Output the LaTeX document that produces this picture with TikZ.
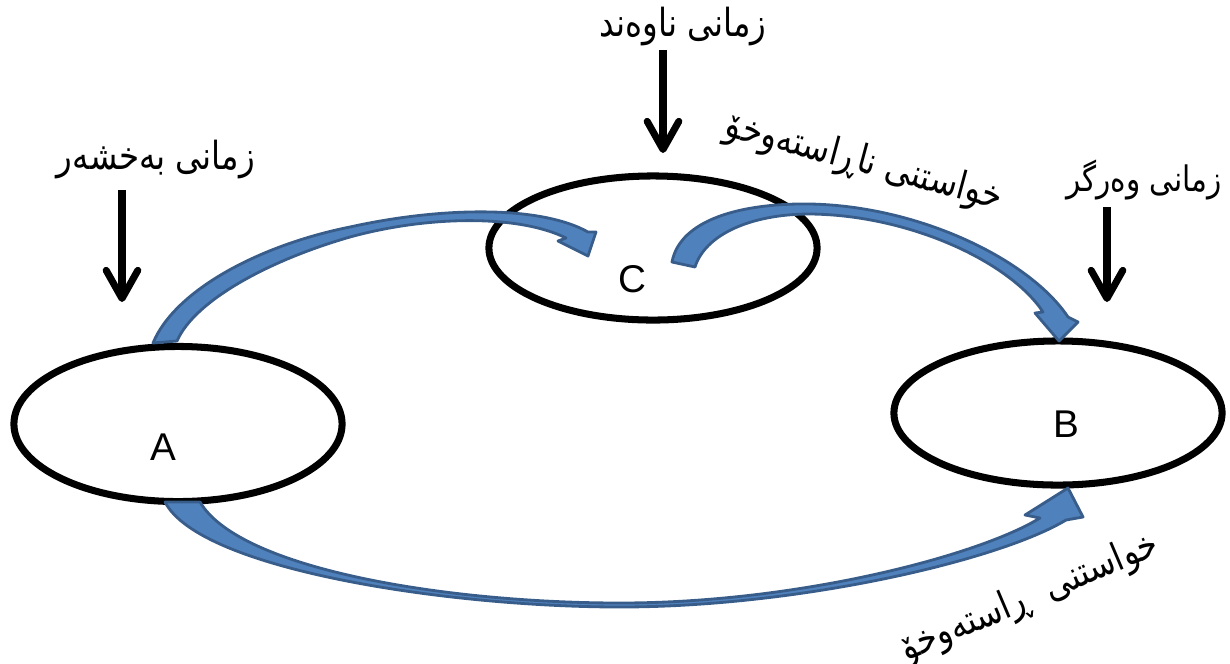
\documentclass[tikz,border=0pt]{standalone}
\usepackage{fontspec}
\setmainfont{Liberation Sans}
\newfontfamily\kurdfont[Script=Arabic, FakeStretch=0.84]{DejaVu Sans}
\TeXXeTstate=1
\usetikzlibrary{shapes.geometric,arrows.meta}
\definecolor{bandfill}{RGB}{79,129,189}
\definecolor{bandedge}{RGB}{56,93,138}

\begin{document}
\begin{tikzpicture}[
    x=0.01cm, y=-0.01cm,
    ring/.style={draw, ellipse, line width=2pt, inner sep=0pt,
                 minimum width=3.28cm, minimum height=1.44cm},
    letter/.style={font=\fontsize{11}{13}\selectfont, inner sep=0pt},
    tongue/.style={font=\kurdfont\fontsize{11}{14}\selectfont, inner sep=1pt},
    dropline/.style={-{Straight Barb[length=8pt,width=9pt,line cap=round,line join=round]},
                     line width=2pt},
    band/.style={fill=bandfill, draw=bandedge, line width=0.8pt, line join=round}]

    \useasboundingbox (0,0) rectangle (1230,663);

    % the three languages
    \node[ring, minimum height=1.55cm] (A) at (178,424) {};
    \node[ring] (C) at (653,248) {};
    \node[ring] (B) at (1058,413) {};

    \node[letter] (A label) at (163,447) {A};
    \node[letter] (C label) at (632,279) {C};
    \node[letter] (B label) at (1066,424) {B};

    % names above them
    \node[tongue] (mid lang) at (683,27) {\beginR زمانی ناوەند\endR};
    \node[tongue] (giver lang) at (156,160) {\beginR زمانی بەخشەر\endR};
    \node[tongue, font=\kurdfont\fontsize{10}{13}\selectfont, anchor=east] (taker lang) at (1226,180) {\beginR زمانی وەرگر\endR};

    \coordinate (mid top) at (663,50);
    \coordinate (mid tip) at (663,153);
    \coordinate (giver top) at (122,190);
    \coordinate (giver tip) at (122,302);
    \coordinate (taker top) at (1107,207);
    \coordinate (taker tip) at (1107,302);

    \draw[dropline] (mid top) -- (mid tip);
    \draw[dropline] (giver top) -- (giver tip);
    \draw[dropline] (taker top) -- (taker tip);

    % curved block arrows
    \path[band] (153,343) .. controls (175,290) and (260,245) .. (350,227)
        .. controls (440,207) and (540,205) .. (588,232)
        -- (596,232) -- (588,256) -- (558,241) -- (566,238)
        .. controls (520,215) and (430,215) .. (350,237)
        .. controls (270,260) and (195,300) .. (177,341) -- cycle;

    \path[band] (672,262) .. controls (680,220) and (740,203) .. (810,204)
        .. controls (920,206) and (1030,260) .. (1068,317)
        -- (1078,322) -- (1059,341) -- (1035,313) -- (1043,312)
        .. controls (1010,262) and (910,215) .. (810,214)
        .. controls (750,214) and (705,235) .. (695,267) -- cycle;

    \path[band] (165,502) .. controls (200,570) and (450,607) .. (620,607)
        .. controls (800,607) and (1000,560) .. (1066,520)
        -- (1083,517) -- (1068,488) -- (1025,515) -- (1040,518)
        .. controls (980,555) and (800,603) .. (620,603)
        .. controls (450,603) and (240,570) .. (200,502) -- cycle;

    % borrowing labels
    \node[tongue, rotate=-15] (indirect) at (864,163) {\beginR خواستنی ناڕاستەوخۆ\endR};
    \node[tongue, rotate=23] (direct) at (1030,598) {\beginR خواستنی\ \ ڕاستەوخۆ\endR};

\end{tikzpicture}
\end{document}
